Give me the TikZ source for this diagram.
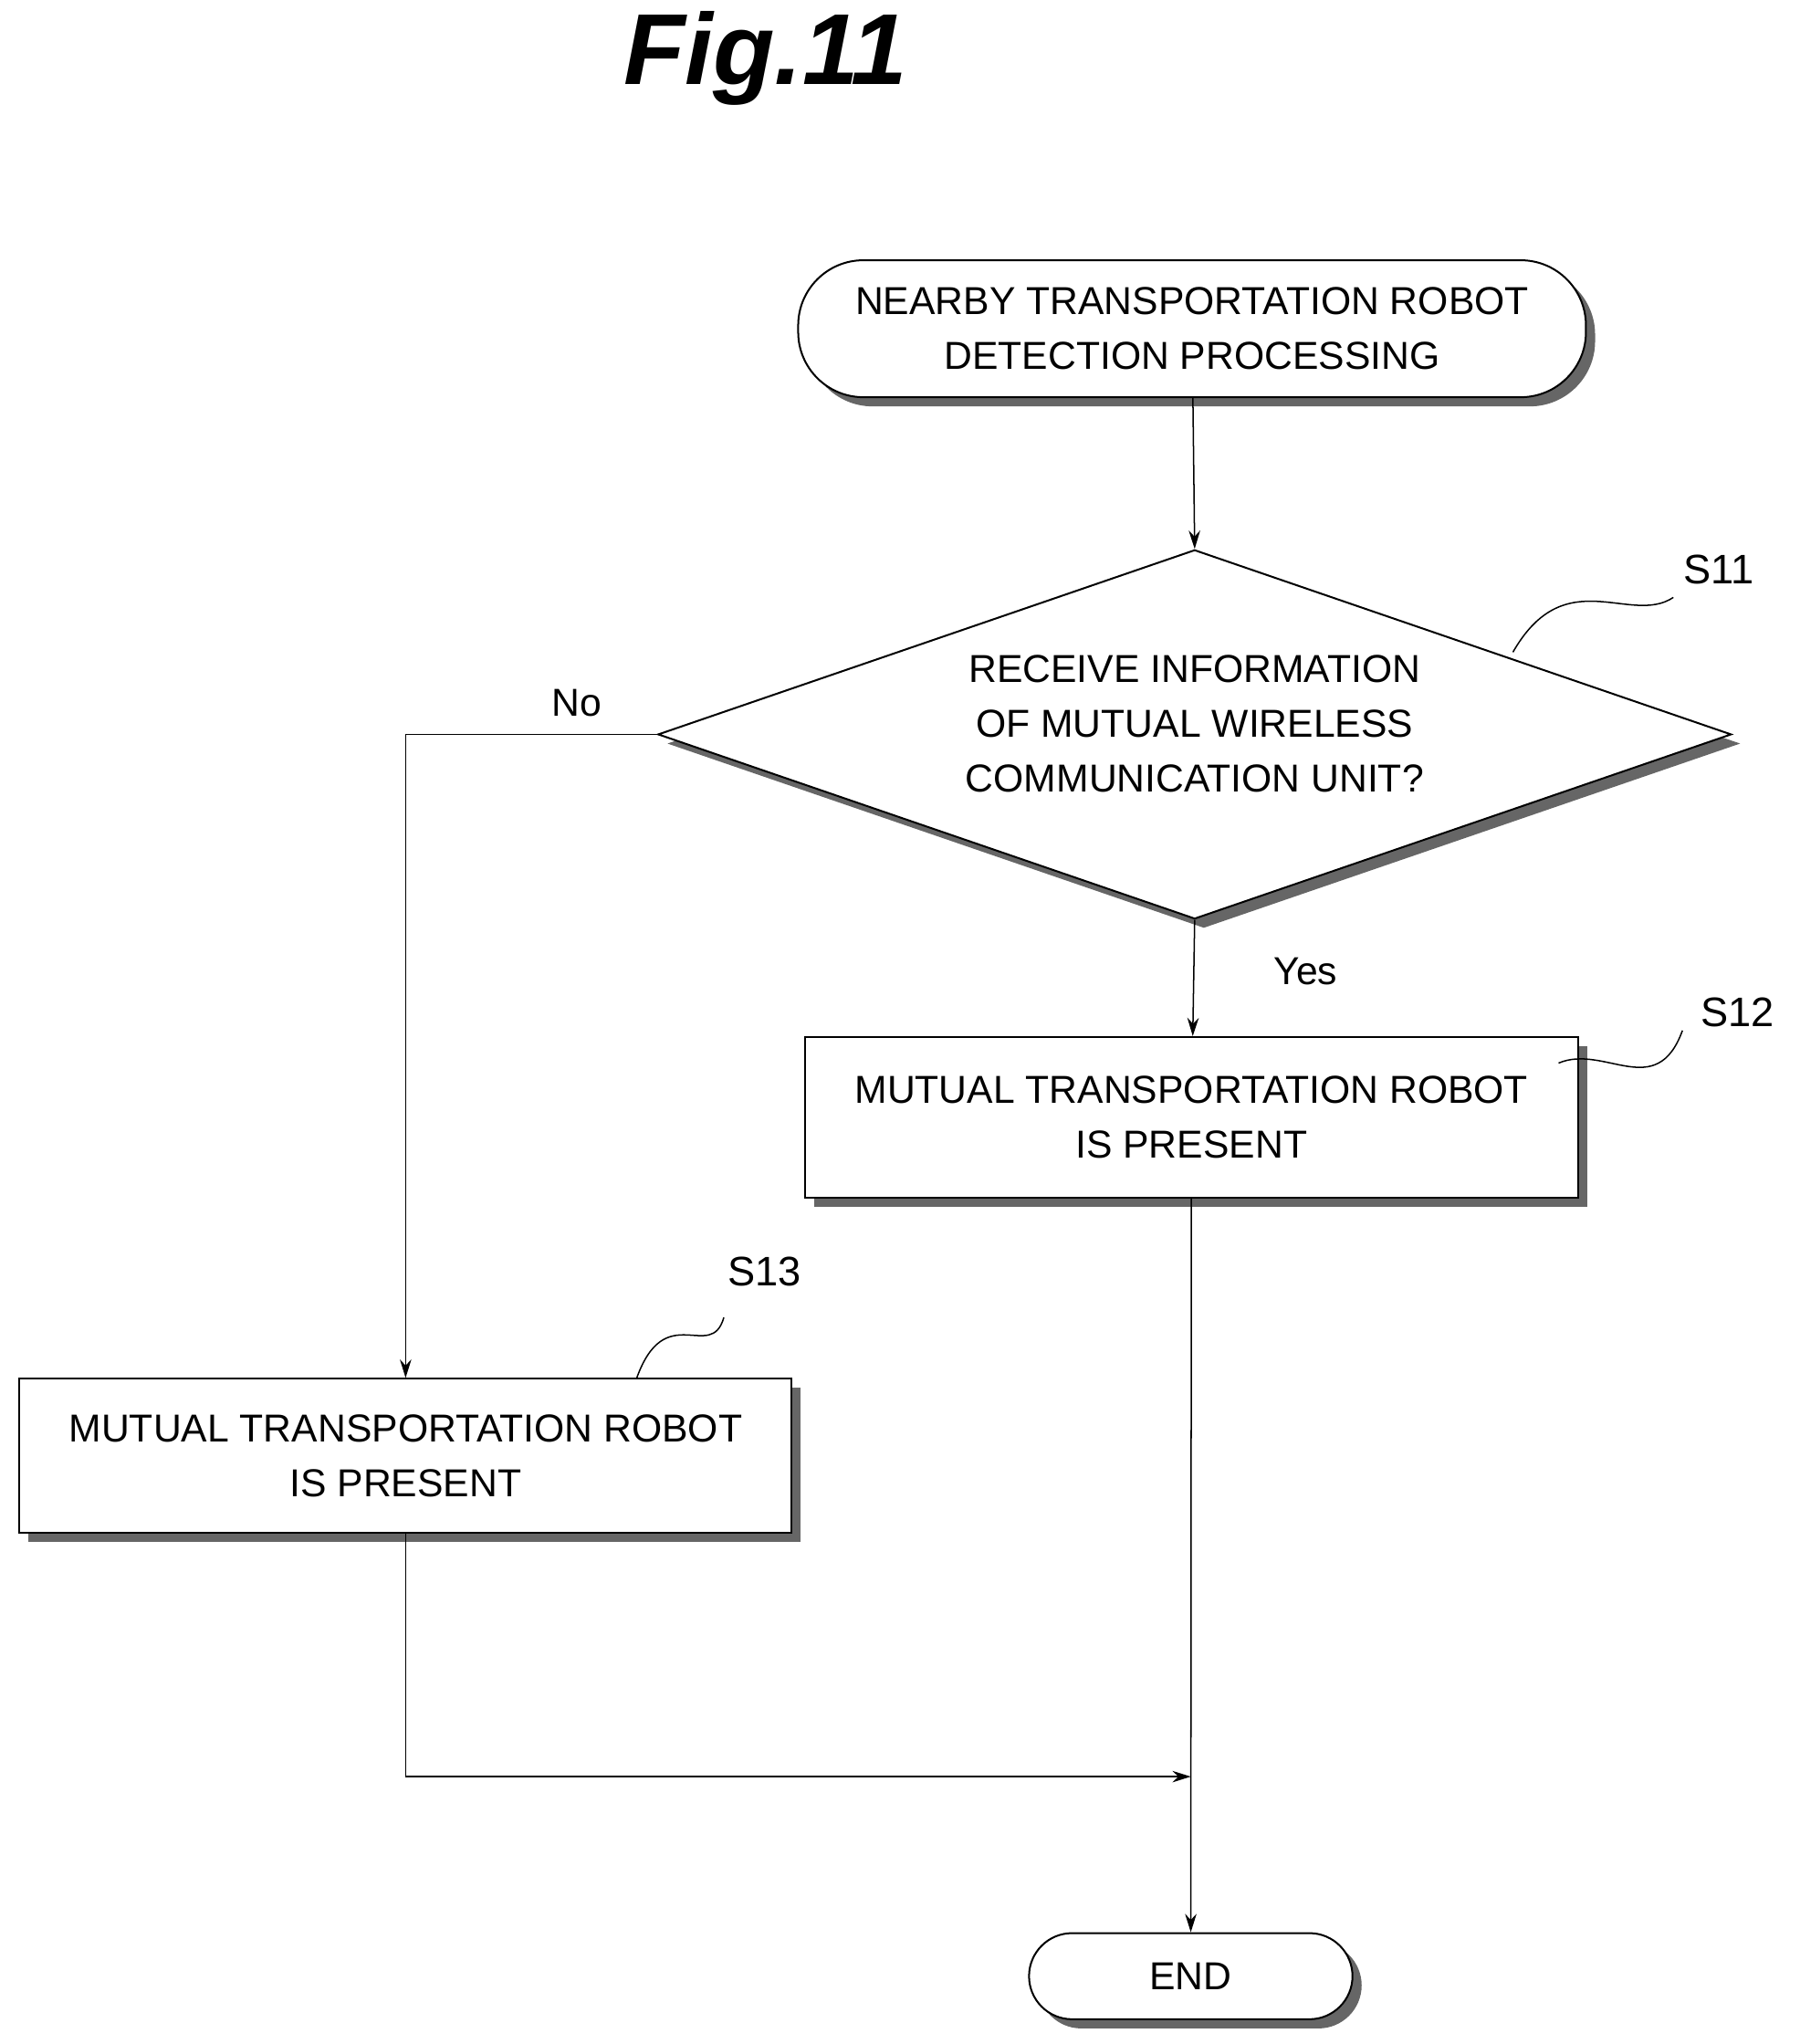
\documentclass[tikz,border=0pt]{standalone}
\usepackage{fontspec}
\setmainfont{Liberation Sans}
\usetikzlibrary{shapes.geometric,shadows,arrows.meta}

\tikzset{
  box/.style={draw,line width=0.8pt,fill=white,align=center,inner sep=0pt,
    drop shadow={shadow xshift=4pt,shadow yshift=-4pt,fill=black!60,opacity=1}},
  flow/.style={-{Stealth[length=8pt,width=5pt]},line width=0.6pt},
  lbl/.style={font=\fontsize{18}{22}\selectfont}
}

\begin{document}
\begin{tikzpicture}[font=\fontsize{17}{24}\selectfont]
      \useasboundingbox (0,0) rectangle (27.6,-31.34);
      \node[font=\fontsize{44}{50}\selectfont\bfseries\itshape] (title) at (11.74,-0.9) {Fig.11};

      \node[box,rounded corners=1cm,minimum width=12.08cm,minimum height=2.1cm] (start) at (18.28,-5.04)
        {NEARBY TRANSPORTATION ROBOT\\DETECTION PROCESSING};
      \node[box,diamond,minimum width=16.46cm,minimum height=5.66cm] (11) at (18.32,-11.26) {};
      \node[align=center] (11text) at (18.32,-11.1)
        {RECEIVE INFORMATION\\OF MUTUAL WIRELESS\\COMMUNICATION UNIT?};
      \node[box,minimum width=11.86cm,minimum height=2.46cm] (12) at (18.27,-17.13)
        {MUTUAL TRANSPORTATION ROBOT\\IS PRESENT};
      \node[box,minimum width=11.84cm,minimum height=2.36cm] (13) at (6.22,-22.32)
        {MUTUAL TRANSPORTATION ROBOT\\IS PRESENT};
      \node[box,rounded corners=0.66cm,minimum width=4.96cm,minimum height=1.32cm] (end) at (18.26,-30.3) {END};
      \coordinate (join) at (18.26,-27.24);

      \node[lbl] (s11) at (26.36,-8.74) {S11};
      \node[lbl] (s12) at (26.64,-15.52) {S12};
      \node[lbl] (s13) at (11.72,-19.5) {S13};

      \draw[flow] (start) -- (11.north);
      \draw[flow] (11.south) -- node[right,xshift=1.1cm,yshift=0.1cm] {Yes} (12);
      \draw[flow] (11.west) -- node[above,pos=0.32,yshift=0.15cm] {No} (11.west -| 13) -- (13);
      \draw[flow] (12) -- (end);
      \draw[flow] (13) |- (join);

      \draw[line width=0.6pt] (23.2,-10.0) .. controls (24.0,-8.6) and (25.0,-9.6) .. (25.66,-9.16);
      \draw[line width=0.6pt] (23.9,-16.3) .. controls (24.6,-16.0) and (25.4,-16.9) .. (25.8,-15.8);
      \draw[line width=0.6pt] (9.76,-21.14) .. controls (10.2,-19.9) and (10.9,-20.9) .. (11.1,-20.2);
    \end{tikzpicture}
\end{document}
